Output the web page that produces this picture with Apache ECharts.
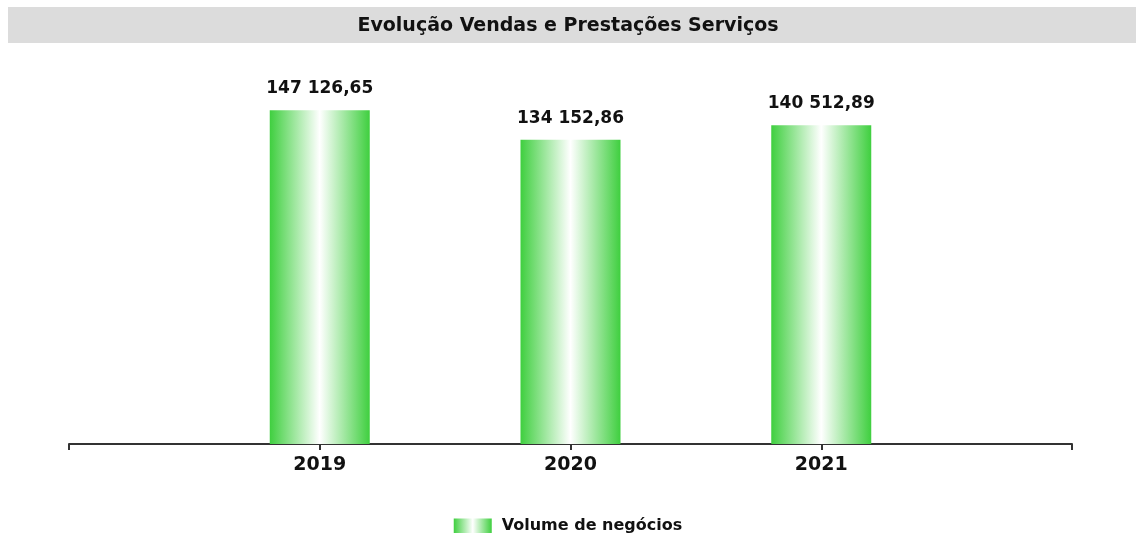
<!DOCTYPE html>
<html>
<head>
<meta charset="utf-8">
<script src="https://cdn.jsdelivr.net/npm/echarts@6/dist/echarts.min.js"></script>
<style>
  html, body { margin: 0; padding: 0; background: #fff; }
  #chatMain { width: 1136px; height: 533px; }
</style>
</head>
<body>
<div id="chatMain"></div>
<script>
// dados do gráfico
const years = ['', '2019', '2020', '2021', ''];
const volumeNegocios = ['-', 147126.65, 134152.86, 140512.89, '-'];
const seriesName = 'Volume de negócios';
const chartTitle = 'Evolução Vendas e Prestações Serviços';

// formato pt: espaço nos milhares, vírgula nas décimas
function fmt(v) {
  const parts = Number(v).toFixed(2).split('.');
  return parts[0].replace(/\B(?=(\d{3})+(?!\d))/g, ' ') + ',' + parts[1];
}

const green = '#3fcf3f';
const barGradient = new echarts.graphic.LinearGradient(0, 0, 1, 0, [
  { offset: 0, color: green },
  { offset: 0.5, color: '#ffffff' },
  { offset: 1, color: green }
]);

const myechart = echarts.init(document.getElementById('chatMain'));
const option = {
  animation: false,
  textStyle: { fontFamily: 'DejaVu Sans' },
  graphic: [{
    type: 'rect',
    z: -1,
    shape: { x: 8, y: 7, width: 1128, height: 36 },
    style: { fill: '#dcdcdc' }
  }],
  title: {
    text: chartTitle,
    left: 'center',
    top: 17,
    padding: 0,
    textStyle: { fontSize: 19, fontWeight: 'bold', color: '#111' }
  },
  legend: {
    top: 513,
    left: 'center',
    icon: 'rect',
    itemWidth: 38,
    itemHeight: 15,
    data: [seriesName],
    textStyle: { fontSize: 16, fontWeight: 'bold', color: '#111', padding: [0, 0, 0, 5] }
  },
  grid: { left: 69, right: 64, top: 81, bottom: 89 },
  xAxis: {
    type: 'category',
    data: years,
    boundaryGap: false,
    axisLine: { lineStyle: { color: '#333', width: 2 } },
    axisTick: { length: 6, lineStyle: { color: '#333', width: 2 } },
    axisLabel: { fontSize: 19, fontWeight: 'bold', color: '#111', margin: 12 }
  },
  yAxis: {
    type: 'value',
    min: 0,
    max: 160000,
    show: false,
    splitLine: { show: false }
  },
  series: [{
    name: seriesName,
    type: 'bar',
    barWidth: 100,
    data: volumeNegocios,
    itemStyle: { color: barGradient },
    label: {
      show: true,
      position: 'top',
      distance: 13,
      fontSize: 17,
      fontWeight: 'bold',
      color: '#111',
      formatter: p => fmt(p.value)
    }
  }]
};
myechart.setOption(option);
</script>
</body>
</html>
